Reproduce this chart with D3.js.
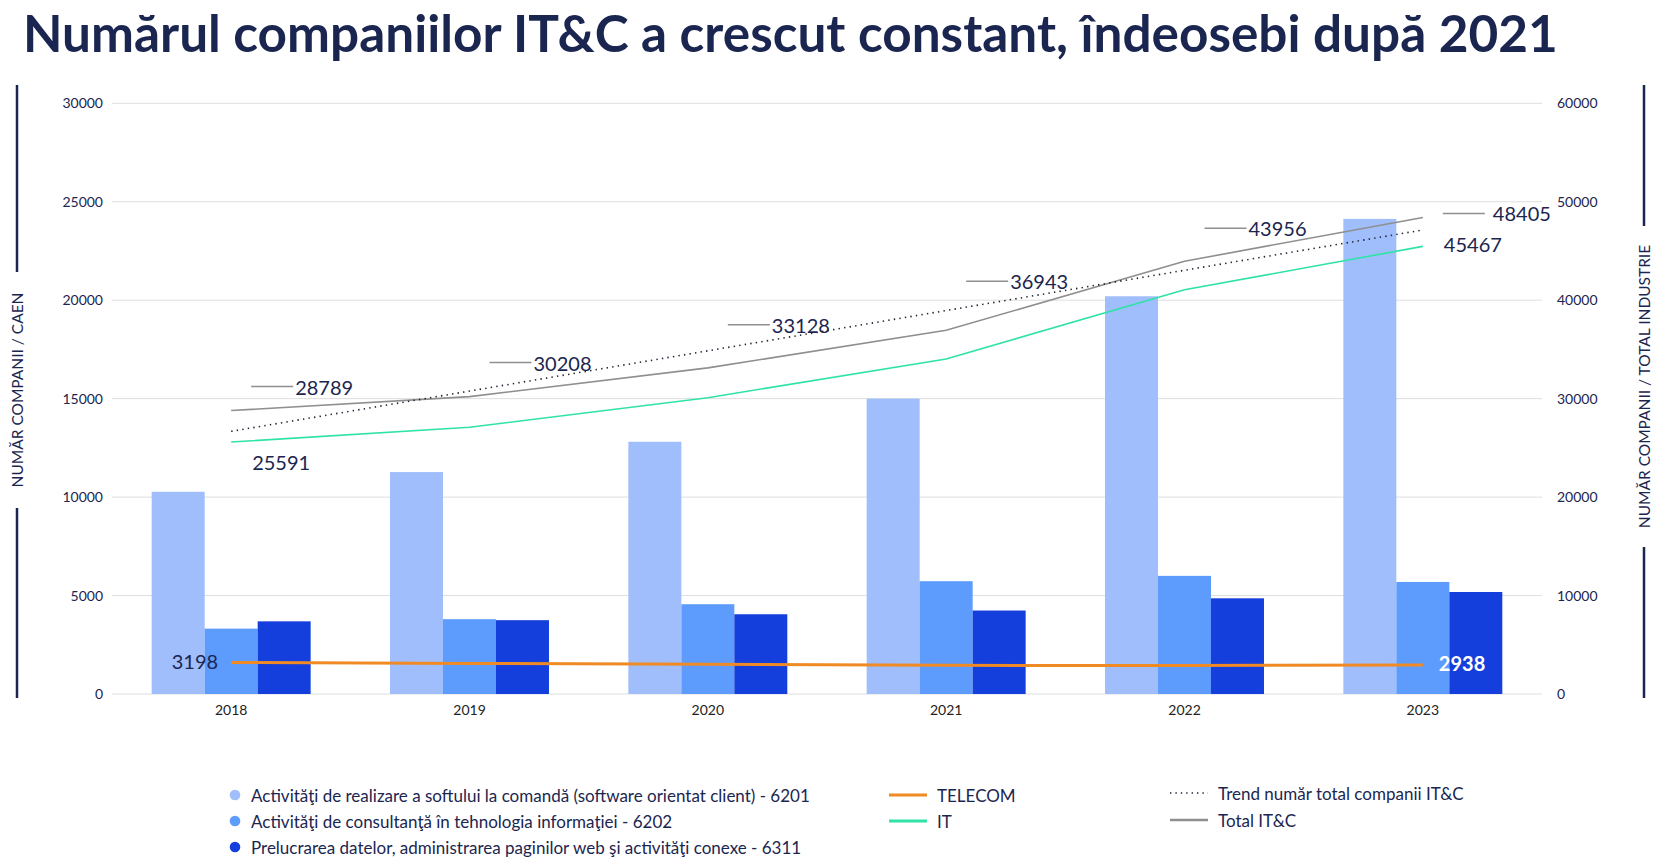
<!DOCTYPE html>
<html><head><meta charset="utf-8">
<script src="https://cdn.jsdelivr.net/npm/d3@7"></script>
<style>
html,body{margin:0;padding:0;background:#fff;}
svg{display:block;font-family:Lato,"Noto Sans",sans-serif;}
</style></head>
<body>
<svg id="chart" width="1664" height="866"></svg>
<script>
// ---------- data ----------
const years = ["2018","2019","2020","2021","2022","2023"];
const softCustom = [10270, 11270, 12810, 15000, 20200, 24130];   // 6201
const consulting = [3320, 3800, 4560, 5730, 6000, 5690];         // 6202
const dataProc   = [3690, 3750, 4050, 4240, 4860, 5180];         // 6311
const telecom    = [3198, 3110, 3030, 2910, 2900, 2938];
const itSeries   = [25591, 27098, 30098, 34033, 41056, 45467];
const totalITC   = [28789, 30208, 33128, 36943, 43956, 48405];
const trendTotal = [26680, 30770, 34860, 38950, 43040, 47130];
const leftTicks  = [0, 5000, 10000, 15000, 20000, 25000, 30000];
const rightTicks = [0, 10000, 20000, 30000, 40000, 50000, 60000];
const barNames = [
  "Activităţi de realizare a softului la comandă (software orientat client) - 6201",
  "Activităţi de consultanţă în tehnologia informaţiei - 6202",
  "Prelucrarea datelor, administrarea paginilor web şi activităţi conexe - 6311"
];
const lineNames = ["TELECOM", "IT", "Trend număr total companii IT&C", "Total IT&C"];
const titleText = "Numărul companiilor IT&C a crescut constant, îndeosebi după 2021";
const leftTitle = "NUMĂR COMPANII / CAEN";
const rightTitle = "NUMĂR COMPANII / TOTAL INDUSTRIE";

// ---------- styles / layout ----------
const navy = "#1b2650";
const barColors = ["#9fbefb", "#5d9cfd", "#153fdc"];
const cTelecom = "#ef8a24", cIT = "#2fe3a6", cTotal = "#8f8f8f", cTrend = "#1f2433";
const totalLabelDy = [-24, -34, -43, -49, -33, -4];
const totalLabelDx = [64, 64, 64, 64, 64, 70];

const svg = d3.select("#chart");
const X0 = 112, X1 = 1542, Y0 = 694, Y1 = 103.3;

const x = d3.scaleBand().domain(years).range([X0, X1]).paddingInner(0.333).paddingOuter(0.1665);
const xs = d3.scaleBand().domain([0,1,2]).range([0, x.bandwidth()]);
const yL = d3.scaleLinear().domain([0, 30000]).range([Y0, Y1]);
const yR = d3.scaleLinear().domain([0, 60000]).range([Y0, Y1]);
const cx = y => x(y) + x.bandwidth() / 2;

// title
const title = svg.append("text").attr("x", 23).attr("y", 52)
  .attr("fill", navy).attr("font-weight", 700).attr("font-size", 50).text(titleText);
const tw = title.node().getComputedTextLength();
title.attr("font-size", 50 * 1535 / tw);

// gridlines
svg.append("g").selectAll("line").data(leftTicks).join("line")
  .attr("x1", X0).attr("x2", X1).attr("y1", d => yL(d)).attr("y2", d => yL(d))
  .attr("stroke", "#dedede").attr("stroke-width", 1);

// left axis
const axL = svg.append("g").attr("transform", `translate(${X0},0)`)
  .call(d3.axisLeft(yL).tickValues(leftTicks).tickSize(0).tickPadding(9).tickFormat(d3.format("d")));
axL.select(".domain").remove();
axL.selectAll("text").attr("font-size", 14).attr("fill", navy).attr("font-family", "Lato");

// right axis
const axR = svg.append("g").attr("transform", `translate(${X1},0)`)
  .call(d3.axisRight(yR).tickValues(rightTicks).tickSize(0).tickPadding(15).tickFormat(d3.format("d")));
axR.select(".domain").remove();
axR.selectAll("text").attr("font-size", 14).attr("fill", navy).attr("font-family", "Lato");

// x axis
const axX = svg.append("g").attr("transform", `translate(0,${Y0})`)
  .call(d3.axisBottom(x).tickSize(0).tickPadding(11));
axX.select(".domain").remove();
axX.selectAll("text").attr("font-size", 14).attr("fill", "#222").attr("font-family", "Lato");

// axis titles with vertical rules
function sideTitle(xPos, txt, topEnd, botStart) {
  svg.append("line").attr("x1", xPos).attr("x2", xPos).attr("y1", 85).attr("y2", topEnd)
    .attr("stroke", navy).attr("stroke-width", 2.5);
  svg.append("line").attr("x1", xPos).attr("x2", xPos).attr("y1", botStart).attr("y2", 698)
    .attr("stroke", navy).attr("stroke-width", 2.5);
  svg.append("text").attr("transform", `translate(${xPos},${(topEnd + botStart) / 2}) rotate(-90)`)
    .attr("text-anchor", "middle").attr("dominant-baseline", "central")
    .attr("font-size", 15.5).attr("fill", navy).text(txt);
}
sideTitle(17, leftTitle, 272, 508);
sideTitle(1644, rightTitle, 226, 547);

// bars
const barSeries = [softCustom, consulting, dataProc];
barSeries.forEach((vals, si) => {
  svg.append("g").selectAll("rect").data(vals).join("rect")
    .attr("x", (d, i) => x(years[i]) + xs(si))
    .attr("width", xs.bandwidth())
    .attr("y", d => yL(d))
    .attr("height", d => Y0 - yL(d))
    .attr("fill", barColors[si]);
});

// lines
const lineGen = vals => d3.line().x((d, i) => cx(years[i])).y(d => yR(d))(vals);
svg.append("path").attr("d", lineGen(totalITC)).attr("fill", "none").attr("stroke", cTotal).attr("stroke-width", 1.6);
svg.append("path").attr("d", lineGen(trendTotal)).attr("fill", "none").attr("stroke", cTrend)
  .attr("stroke-width", 1.6).attr("stroke-dasharray", "1.4,4.2");
svg.append("path").attr("d", lineGen(itSeries)).attr("fill", "none").attr("stroke", cIT).attr("stroke-width", 1.6);
svg.append("path").attr("d", lineGen(telecom)).attr("fill", "none").attr("stroke", cTelecom).attr("stroke-width", 3);

// total labels with leaders
totalITC.forEach((v, i) => {
  const px = cx(years[i]), py = yR(v) + totalLabelDy[i];
  svg.append("line").attr("x1", px + 20).attr("x2", px + 62).attr("y1", py).attr("y2", py)
    .attr("stroke", cTotal).attr("stroke-width", 1.5);
  svg.append("text").attr("x", px + totalLabelDx[i]).attr("y", py).attr("dominant-baseline", "central")
    .attr("font-size", 20).attr("fill", navy).text(v);
});

// IT labels (first and last)
const iFirst = 0, iLast = years.length - 1;
svg.append("text").attr("x", cx(years[iFirst]) + 21).attr("y", yR(itSeries[iFirst]) + 20)
  .attr("dominant-baseline", "central").attr("font-size", 20).attr("fill", navy).text(itSeries[iFirst]);
svg.append("text").attr("x", cx(years[iLast]) + 21).attr("y", yR(itSeries[iLast]) - 2)
  .attr("dominant-baseline", "central").attr("font-size", 20).attr("fill", navy).text(itSeries[iLast]);

// Telecom labels
svg.append("text").attr("x", cx(years[iFirst]) - 13).attr("y", yR(telecom[iFirst]) - 2)
  .attr("text-anchor", "end").attr("dominant-baseline", "central").attr("font-size", 20)
  .attr("fill", navy).text(telecom[iFirst]);
svg.append("text").attr("x", cx(years[iLast]) + 16).attr("y", yR(telecom[iLast]) - 2)
  .attr("dominant-baseline", "central").attr("font-size", 20).attr("font-weight", 700)
  .attr("fill", "#fff").text(telecom[iLast]);

// legend
const lg = svg.append("g");
const rowsY = [795, 821, 847];
barNames.forEach((n, i) => {
  lg.append("circle").attr("cx", 235).attr("cy", rowsY[i]).attr("r", 5.3).attr("fill", barColors[i]);
  lg.append("text").attr("x", 251).attr("y", rowsY[i]).attr("dominant-baseline", "central")
    .attr("font-size", 17).attr("fill", navy).text(n);
});
const lineLeg = [
  {x: 889, y: 795, c: cTelecom, w: 3, dash: null},
  {x: 889, y: 821, c: cIT, w: 3, dash: null},
  {x: 1170, y: 793, c: cTrend, w: 1.6, dash: "1.4,4"},
  {x: 1170, y: 820, c: cTotal, w: 2.5, dash: null}
];
lineNames.forEach((n, i) => {
  const L = lineLeg[i];
  lg.append("line").attr("x1", L.x).attr("x2", L.x + 38).attr("y1", L.y).attr("y2", L.y)
    .attr("stroke", L.c).attr("stroke-width", L.w).attr("stroke-dasharray", L.dash);
  lg.append("text").attr("x", L.x + 48).attr("y", L.y).attr("dominant-baseline", "central")
    .attr("font-size", 17).attr("fill", navy).text(n);
});
</script>
</body></html>
